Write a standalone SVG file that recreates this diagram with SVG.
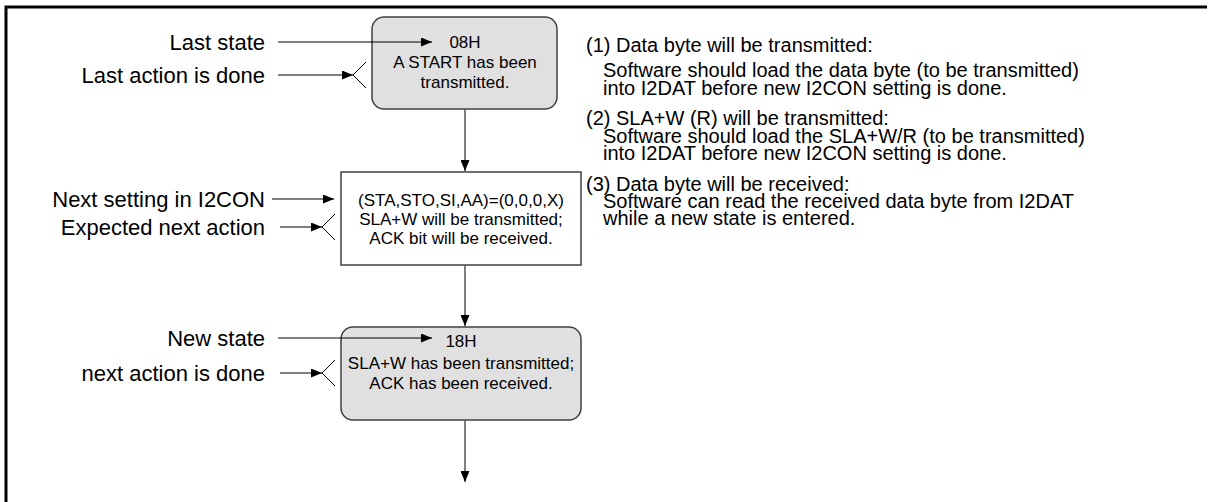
<svg xmlns="http://www.w3.org/2000/svg" width="1211" height="502" viewBox="0 0 1211 502">
  <style>
    .bg { fill: #ffffff; }
    .frame { stroke: #000000; stroke-width: 3; fill: none; }
    .state { fill: #e0e0e0; stroke: #404040; stroke-width: 1.5; }
    .action { fill: #ffffff; stroke: #404040; stroke-width: 1.5; }
    .ntext { font-family: "Liberation Sans", Arial, sans-serif; font-size: 17px; fill: #000; text-anchor: middle; }
    .label { font-family: "Liberation Sans", Arial, sans-serif; font-size: 22px; fill: #000; text-anchor: end; }
    .note { font-family: "Liberation Sans", Arial, sans-serif; font-size: 20px; fill: #000; }
    .hline { stroke: #000; stroke-width: 1.2; fill: none; }
    .vline { stroke: #555; stroke-width: 1.5; fill: none; }
    .fork { stroke: #000; stroke-width: 1; fill: none; }
  </style>
  <defs>
    <marker id="ah" markerUnits="userSpaceOnUse" markerWidth="11" markerHeight="9" refX="11" refY="4.5" orient="auto">
      <path d="M0,0 L11,4.5 L0,9 z" fill="#000"/>
    </marker>
  </defs>
  <rect class="bg" x="0" y="0" width="1211" height="502"/>
  <path class="frame" d="M6,502 L6,7 L1207,7"/>

  <g id="state08">
    <rect class="state" x="372" y="17" width="185" height="92" rx="12" ry="12"/>
    <text class="ntext" x="465" y="48">08H</text>
    <text class="ntext" x="465" y="68">A START has been</text>
    <text class="ntext" x="465" y="88">transmitted.</text>
  </g>

  <g id="action1">
    <rect class="action" x="341" y="172" width="240" height="93"/>
    <text class="ntext" x="461" y="206">(STA,STO,SI,AA)=(0,0,0,X)</text>
    <text class="ntext" x="461" y="225">SLA+W will be transmitted;</text>
    <text class="ntext" x="461" y="244">ACK bit will be received.</text>
  </g>

  <g id="state18">
    <rect class="state" x="341" y="327" width="240" height="93" rx="12" ry="12"/>
    <text class="ntext" x="461" y="347">18H</text>
    <text class="ntext" x="461" y="369">SLA+W has been transmitted;</text>
    <text class="ntext" x="461" y="389">ACK has been received.</text>
  </g>

  <g id="connectors">
    <line class="hline" x1="278" y1="42" x2="432" y2="42" marker-end="url(#ah)"/>
    <line class="hline" x1="278" y1="75" x2="353" y2="75" marker-end="url(#ah)"/>
    <polyline class="fork" points="366,62 353,75 366,88"/>
    <line class="hline" x1="272" y1="199" x2="334" y2="199" marker-end="url(#ah)"/>
    <line class="hline" x1="280" y1="227" x2="322" y2="227" marker-end="url(#ah)"/>
    <polyline class="fork" points="335,214 322,227 335,240"/>
    <line class="hline" x1="278" y1="338" x2="432" y2="338" marker-end="url(#ah)"/>
    <line class="hline" x1="280" y1="373" x2="322" y2="373" marker-end="url(#ah)"/>
    <polyline class="fork" points="335,360 322,373 335,386"/>
    <line class="vline" x1="465" y1="109" x2="465" y2="171" marker-end="url(#ah)"/>
    <line class="vline" x1="465" y1="265" x2="465" y2="326" marker-end="url(#ah)"/>
    <line class="vline" x1="465" y1="420" x2="465" y2="482" marker-end="url(#ah)"/>
  </g>

  <g id="labels">
    <text class="label" x="265" y="50">Last state</text>
    <text class="label" x="265" y="83">Last action is done</text>
    <text class="label" x="265" y="207">Next setting in I2CON</text>
    <text class="label" x="265" y="235">Expected next action</text>
    <text class="label" x="265" y="346">New state</text>
    <text class="label" x="265" y="381">next action is done</text>
  </g>

  <g id="notes">
    <text class="note" x="586" y="52">(1) Data byte will be transmitted:</text>
    <text class="note" x="603" y="77">Software should load the data byte (to be transmitted)</text>
    <text class="note" x="603" y="95">into I2DAT before new I2CON setting is done.</text>
    <text class="note" x="586" y="125">(2) SLA+W (R) will be transmitted:</text>
    <text class="note" x="603" y="143">Software should load the SLA+W/R (to be transmitted)</text>
    <text class="note" x="603" y="160">into I2DAT before new I2CON setting is done.</text>
    <text class="note" x="586" y="191">(3) Data byte will be received:</text>
    <text class="note" x="603" y="208">Software can read the received data byte from I2DAT</text>
    <text class="note" x="603" y="225">while a new state is entered.</text>
  </g>
</svg>
